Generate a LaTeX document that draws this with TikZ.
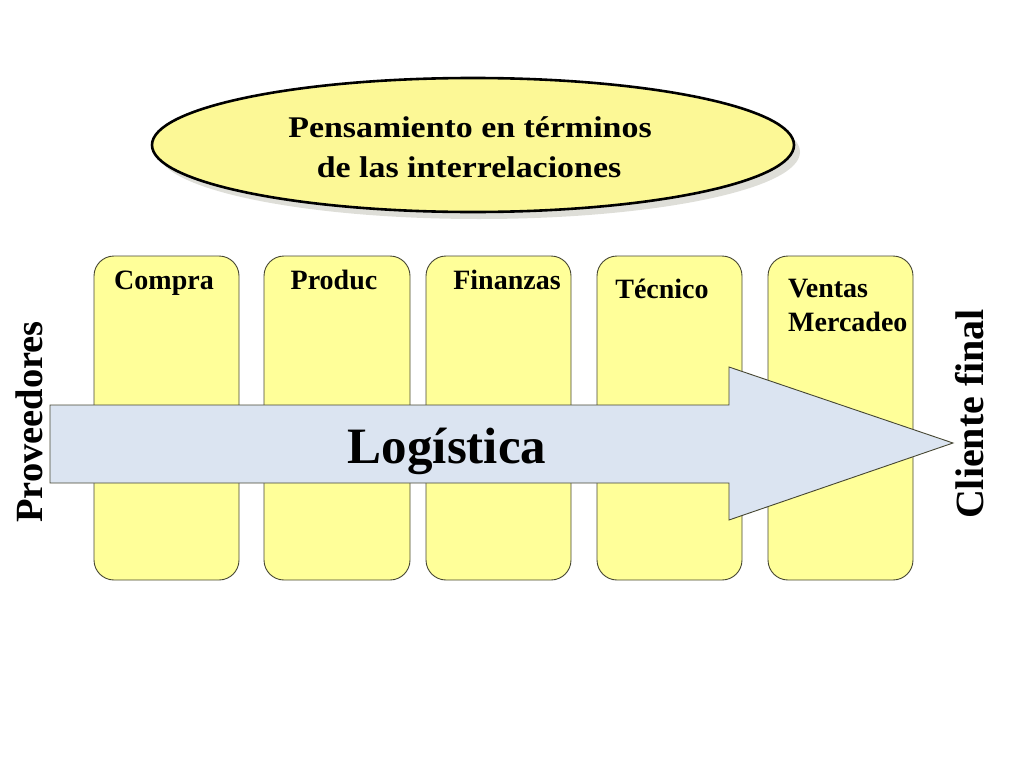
\documentclass[tikz,border=0pt]{standalone}
\usepackage{fontspec}
\setmainfont{Liberation Serif}
\usetikzlibrary{shapes.geometric}
\definecolor{boxfill}{RGB}{255,255,153}
\definecolor{boxline}{RGB}{70,70,50}
\definecolor{ellfill}{RGB}{252,248,150}
\definecolor{arrfill}{RGB}{219,228,241}
\definecolor{shadowc}{RGB}{222,222,216}
\begin{document}
\begin{tikzpicture}[x=1pt,y=-1pt,
  dept/.style={draw=boxline,line width=0.9pt,fill=boxfill,rounded corners=20pt},
  lbl/.style={font=\bfseries\fontsize{28}{33}\selectfont,inner sep=0pt,anchor=base},
  side/.style={inner sep=0pt,rotate=90,anchor=base}]
\useasboundingbox (0,0) rectangle (1024,768);
% ellipse shadow and ellipse
\fill[shadowc] (479,152) ellipse [x radius=321, y radius=67];
\node[ellipse,draw=black,line width=2.6pt,fill=ellfill,minimum width=642pt,minimum height=134pt,inner sep=0pt] (ell) at (473,145) {};
\node[inner sep=0pt,anchor=base,xscale=1.13,font=\bfseries\fontsize{30}{40}\selectfont] (t1) at (470,137) {Pensamiento en términos};
\node[inner sep=0pt,anchor=base,xscale=1.13,font=\bfseries\fontsize{30}{40}\selectfont] (t2) at (469,177) {de las interrelaciones};
% department boxes
\draw[dept] (94,256) rectangle (239,580);
\draw[dept] (264,256) rectangle (410,580);
\draw[dept] (426,256) rectangle (571,580);
\draw[dept] (597,256) rectangle (742,580);
\draw[dept] (768,256) rectangle (913,580);
\node[lbl] (compra) at (164,289) {Compra};
\node[lbl] (produc) at (334,289) {Produc};
\node[lbl] (finanzas) at (507,289) {Finanzas};
\node[lbl] (tecnico) at (662,298) {Técnico};
\node[lbl,anchor=base west] (ventas) at (788,297) {Ventas};
\node[lbl,anchor=base west] (mercadeo) at (788,331) {Mercadeo};
% big arrow
\draw[draw=boxline,line width=0.9pt,fill=arrfill]
  (50,405) -- (729,405) -- (729,367) -- (953,443) -- (729,520) -- (729,483) -- (50,483) -- cycle;
\node[font=\bfseries\fontsize{51}{55}\selectfont,inner sep=0pt,anchor=base] (log) at (447,463) {Logística};
\node[side,font=\bfseries\fontsize{38.5}{42}\selectfont] (prov) at (42,422) {Proveedores};
\node[side,font=\bfseries\fontsize{40}{44}\selectfont] (cli) at (983,414) {Cliente final};
\end{tikzpicture}
\end{document}
